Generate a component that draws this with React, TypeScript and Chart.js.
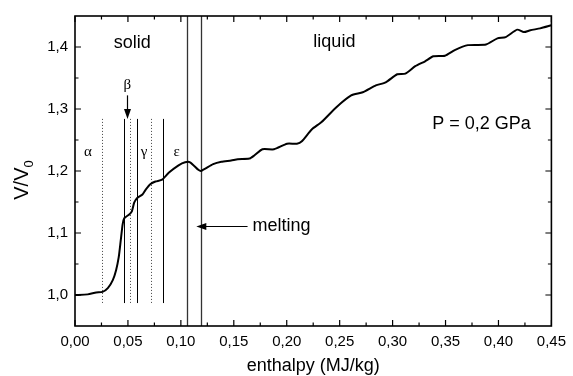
import React, { useEffect, useRef } from "react";
import { Chart, registerables } from "chart.js";

Chart.register(...registerables);

// ---- data ----
const enthalpy = [
  0, 0.012, 0.02, 0.026, 0.031, 0.0357, 0.0388, 0.0413, 0.0432, 0.045, 0.0466,
  0.0512, 0.0537, 0.0559, 0.059, 0.0637, 0.0668, 0.0714, 0.076, 0.0823, 0.0885,
  0.0978, 0.104, 0.1087, 0.1165, 0.119, 0.1305, 0.1382, 0.1475, 0.1537, 0.1646,
  0.1693, 0.177, 0.188, 0.2003, 0.2096, 0.2143, 0.2236, 0.2329, 0.2469, 0.2609,
  0.2718, 0.2842, 0.2935, 0.3044, 0.3121, 0.3214, 0.3307, 0.3385, 0.3494,
  0.3587, 0.3711, 0.3882, 0.399, 0.4068, 0.4177, 0.4239, 0.4301, 0.4394, 0.45,
];
const volumeRatio = [
  1.0, 1.001, 1.004, 1.005, 1.011, 1.024, 1.04, 1.061, 1.088, 1.114, 1.124,
  1.13, 1.135, 1.149, 1.157, 1.162, 1.17, 1.179, 1.183, 1.186, 1.197,
  1.209, 1.214, 1.214, 1.202, 1.2, 1.211, 1.215, 1.217, 1.219, 1.22,
  1.225, 1.235, 1.235, 1.244, 1.244, 1.248, 1.267, 1.279, 1.303, 1.322,
  1.327, 1.338, 1.343, 1.356, 1.357, 1.369, 1.377, 1.385, 1.386,
  1.395, 1.403, 1.404, 1.414, 1.416, 1.428, 1.424, 1.427, 1.43, 1.435,
];

const xTicks = [0, 0.05, 0.1, 0.15, 0.2, 0.25, 0.3, 0.35, 0.4, 0.45];
const xMinorTicks = [0.025, 0.075, 0.125, 0.175, 0.225, 0.275, 0.325, 0.375, 0.425];
const yTicks = [1.0, 1.1, 1.2, 1.3, 1.4];
const yMinorTicks = [1.05, 1.15, 1.25, 1.35];

const dottedLines = [0.0258, 0.0515, 0.0717];
const solidPhaseLines = [0.046, 0.0587, 0.0832];
const meltingLines = [0.1056, 0.1186];
const phaseLineRange = [0.987, 1.284];

const phaseLabels = ["α", "β", "γ", "ε"];
const phaseLabelX = [0.0121, 0.0494, 0.0652, 0.096];
const phaseLabelY = [1.231, 1.339, 1.231, 1.231];
const betaArrow = { x: 0.0494, from: 1.322, to: 1.284 };

const regionLabels = ["solid", "liquid", "P = 0,2 GPa"];
const regionLabelX = [0.054, 0.245, 0.384];
const regionLabelY = [1.406, 1.408, 1.276];

const meltingLabel = "melting";
const meltingArrow = { from: 0.163, to: 0.1146, y: 1.1116, textX: 0.1677 };

const FONT = "'Liberation Sans', Arial, sans-serif";

function drawArrowHead(ctx: CanvasRenderingContext2D, x: number, y: number, dir: "down" | "left") {
  ctx.beginPath();
  if (dir === "down") {
    ctx.moveTo(x, y);
    ctx.lineTo(x - 3.5, y - 10);
    ctx.lineTo(x + 3.5, y - 10);
  } else {
    ctx.moveTo(x, y);
    ctx.lineTo(x + 10, y - 3.5);
    ctx.lineTo(x + 10, y + 3.5);
  }
  ctx.closePath();
  ctx.fill();
}

const decorPlugin = {
  id: "decor",
  beforeDatasetsDraw(chart: any) {
    const { ctx, chartArea: a, scales } = chart;
    const xs = scales.x;
    const ys = scales.y;
    ctx.save();
    const yTop = ys.getPixelForValue(phaseLineRange[1]);
    const yBot = ys.getPixelForValue(phaseLineRange[0]);
    // dotted lines
    ctx.strokeStyle = "#444";
    ctx.lineWidth = 1;
    ctx.setLineDash([1, 2]);
    dottedLines.forEach((v) => {
      const x = Math.round(xs.getPixelForValue(v)) + 0.5;
      ctx.beginPath();
      ctx.moveTo(x, yTop);
      ctx.lineTo(x, yBot);
      ctx.stroke();
    });
    ctx.setLineDash([]);
    ctx.strokeStyle = "#000";
    solidPhaseLines.forEach((v) => {
      const x = Math.round(xs.getPixelForValue(v)) + 0.5;
      ctx.beginPath();
      ctx.moveTo(x, yTop);
      ctx.lineTo(x, yBot);
      ctx.stroke();
    });
    ctx.strokeStyle = "#333";
    ctx.lineWidth = 1.3;
    meltingLines.forEach((v) => {
      const x = Math.round(xs.getPixelForValue(v)) + 0.5;
      ctx.beginPath();
      ctx.moveTo(x, a.top);
      ctx.lineTo(x, a.bottom);
      ctx.stroke();
    });
    ctx.restore();
  },
  afterDraw(chart: any) {
    const { ctx, chartArea: a, scales } = chart;
    const xs = scales.x;
    const ys = scales.y;
    ctx.save();
    // frame
    ctx.strokeStyle = "#000";
    ctx.lineWidth = 1.6;
    ctx.strokeRect(a.left, a.top, a.right - a.left, a.bottom - a.top);
    // ticks
    ctx.lineWidth = 1.2;
    const major = 6;
    const minor = 3.5;
    const vt = (v: number, len: number) => {
      const x = xs.getPixelForValue(v);
      ctx.beginPath();
      ctx.moveTo(x, a.bottom);
      ctx.lineTo(x, a.bottom - len);
      ctx.moveTo(x, a.top);
      ctx.lineTo(x, a.top + len);
      ctx.stroke();
    };
    const ht = (v: number, len: number) => {
      const y = ys.getPixelForValue(v);
      ctx.beginPath();
      ctx.moveTo(a.left, y);
      ctx.lineTo(a.left + len, y);
      ctx.moveTo(a.right, y);
      ctx.lineTo(a.right - len, y);
      ctx.stroke();
    };
    xTicks.forEach((v) => vt(v, major));
    xMinorTicks.forEach((v) => vt(v, minor));
    yTicks.forEach((v) => ht(v, major));
    yMinorTicks.forEach((v) => ht(v, minor));

    ctx.fillStyle = "#000";
    ctx.textAlign = "center";
    ctx.textBaseline = "middle";
    // region labels
    ctx.font = `18px ${FONT}`;
    regionLabels.forEach((t, i) => {
      ctx.fillText(t, xs.getPixelForValue(regionLabelX[i]), ys.getPixelForValue(regionLabelY[i]));
    });
    // greek phase labels
    ctx.font = `15px 'Liberation Serif', 'DejaVu Serif', serif`;
    phaseLabels.forEach((t, i) => {
      ctx.fillText(t, xs.getPixelForValue(phaseLabelX[i]), ys.getPixelForValue(phaseLabelY[i]));
    });
    // beta arrow
    ctx.lineWidth = 1.2;
    const bx = Math.round(xs.getPixelForValue(betaArrow.x)) + 0.5;
    const by1 = ys.getPixelForValue(betaArrow.from);
    const by2 = ys.getPixelForValue(betaArrow.to);
    ctx.beginPath();
    ctx.moveTo(bx, by1);
    ctx.lineTo(bx, by2 - 8);
    ctx.stroke();
    drawArrowHead(ctx, bx, by2, "down");
    // melting arrow
    const my = Math.round(ys.getPixelForValue(meltingArrow.y)) + 0.5;
    const mx1 = xs.getPixelForValue(meltingArrow.from);
    const mx2 = xs.getPixelForValue(meltingArrow.to);
    ctx.beginPath();
    ctx.moveTo(mx1, my);
    ctx.lineTo(mx2 + 8, my);
    ctx.stroke();
    drawArrowHead(ctx, mx2, my, "left");
    ctx.font = `18px ${FONT}`;
    ctx.textAlign = "left";
    ctx.fillText(meltingLabel, xs.getPixelForValue(meltingArrow.textX), my);

    // x title
    ctx.textAlign = "center";
    ctx.fillText("enthalpy (MJ/kg)", (a.left + a.right) / 2, 366);

    // y title V/V0 rotated
    ctx.translate(22, 180);
    ctx.rotate(-Math.PI / 2);
    ctx.font = `20px ${FONT}`;
    const main = "V/V";
    const wMain = ctx.measureText(main).width;
    ctx.font = `13px ${FONT}`;
    const wSub = ctx.measureText("0").width;
    const total = wMain + wSub;
    ctx.textAlign = "left";
    ctx.font = `20px ${FONT}`;
    ctx.fillText(main, -total / 2, 0);
    ctx.font = `13px ${FONT}`;
    ctx.fillText("0", -total / 2 + wMain, 7);
    ctx.restore();
  },
};

export default function App() {
  const ref = useRef<HTMLCanvasElement | null>(null);
  useEffect(() => {
    if (!ref.current) return;
    const chart = new Chart(ref.current, {
      type: "line",
      data: {
        datasets: [
          {
            data: enthalpy.map((x, i) => ({ x, y: volumeRatio[i] })),
            borderColor: "#000",
            borderWidth: 2,
            pointRadius: 0,
            tension: 0.2,
            fill: false,
          },
        ],
      },
      options: {
        responsive: false,
        animation: false,
        devicePixelRatio: 1,
        layout: { padding: { top: 12, right: 15, left: 0, bottom: 0 } },
        plugins: { legend: { display: false }, tooltip: { enabled: false } },
        scales: {
          x: {
            type: "linear",
            min: 0,
            max: 0.45,
            afterBuildTicks: (s: any) => {
              s.ticks = xTicks.map((v) => ({ value: v }));
            },
            afterFit: (s: any) => {
              s.height = 50;
            },
            grid: { display: false, drawTicks: false },
            border: { display: false },
            ticks: {
              color: "#000",
              font: { family: FONT, size: 15 },
              padding: 7,
              maxRotation: 0,
              autoSkip: false,
              callback: (v: any) => Number(v).toFixed(2).replace(".", ","),
            },
          },
          y: {
            type: "linear",
            min: 0.95,
            max: 1.45,
            afterBuildTicks: (s: any) => {
              s.ticks = yTicks.map((v) => ({ value: v }));
            },
            afterFit: (s: any) => {
              s.width = 75;
            },
            grid: { display: false, drawTicks: false },
            border: { display: false },
            ticks: {
              color: "#000",
              font: { family: FONT, size: 15 },
              padding: 7,
              autoSkip: false,
              callback: (v: any) => Number(v).toFixed(1).replace(".", ","),
            },
          },
        },
      },
      plugins: [decorPlugin],
    });
    return () => chart.destroy();
  }, []);
  return (
    <div style={{ position: "absolute", left: 0, top: 0, width: 573, height: 376, background: "#fff" }}>
      <canvas ref={ref} width={573} height={376} style={{ display: "block" }} />
    </div>
  );
}
